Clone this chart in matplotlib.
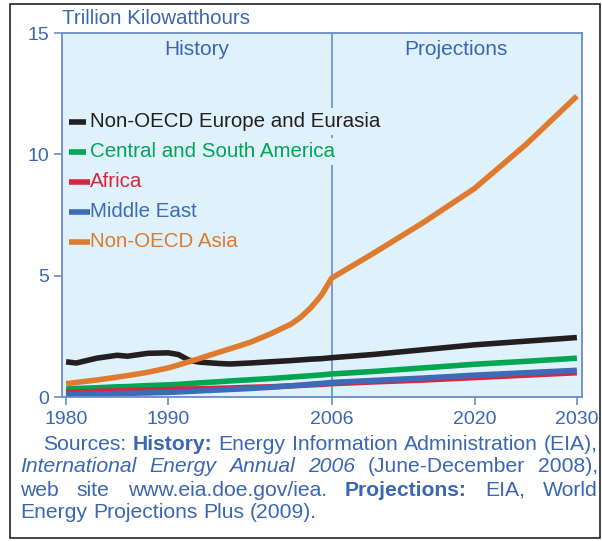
import matplotlib
matplotlib.use("Agg")
import matplotlib.pyplot as plt
from matplotlib.patches import Rectangle

plt.rcParams['font.family'] = ['Liberation Sans', 'DejaVu Sans']

# values (trillion kWh)
years = [1980, 1981, 1983, 1985, 1986, 1988, 1990, 1991, 1992, 1993, 1995, 1996, 1998, 2000, 2002, 2003, 2004, 2005, 2006,
         2010, 2015, 2020, 2025, 2030]
europe = [1.45, 1.40, 1.60, 1.72, 1.68, 1.80, 1.82, 1.75, 1.52, 1.44, 1.38, 1.36, 1.40, 1.45, 1.50, 1.53, 1.56, 1.58, 1.62,
          1.75, 1.95, 2.15, 2.30, 2.45]
csa = [0.33, 0.35, 0.38, 0.42, 0.43, 0.47, 0.50, 0.52, 0.55, 0.58, 0.63, 0.66, 0.71, 0.76, 0.82, 0.85, 0.88, 0.91, 0.95,
       1.05, 1.20, 1.35, 1.47, 1.60]
africa = [0.20, 0.21, 0.23, 0.25, 0.26, 0.29, 0.31, 0.32, 0.33, 0.34, 0.36, 0.37, 0.40, 0.42, 0.46, 0.48, 0.50, 0.52, 0.55,
          0.62, 0.70, 0.80, 0.90, 1.00]
mideast = [0.10, 0.11, 0.12, 0.14, 0.15, 0.17, 0.19, 0.21, 0.23, 0.25, 0.29, 0.31, 0.35, 0.40, 0.46, 0.49, 0.53, 0.56, 0.60,
           0.68, 0.78, 0.90, 1.00, 1.10]
asia = [0.55, 0.60, 0.70, 0.82, 0.88, 1.02, 1.20, 1.32, 1.45, 1.58, 1.85, 1.98, 2.25, 2.60, 3.00, 3.30, 3.70, 4.20, 4.90,
        5.90, 7.20, 8.60, 10.40, 12.40]

series = [("Non-OECD Europe and Eurasia", europe, "#231f20"),
          ("Central and South America", csa, "#00a651"),
          ("Africa", africa, "#d7263d"),
          ("Middle East", mideast, "#3d6bb8"),
          ("Non-OECD Asia", asia, "#e07a2f")]
draw_order = [1, 2, 3, 0, 4]

xticks = [1980, 1990, 2006, 2020, 2030]
yticks = [0, 5, 10, 15]

blue = "#3b66b4"
bg = "#dff2fc"
W, H = 602, 541
fig = plt.figure(figsize=(W / 100, H / 100), dpi=100)
fig.patches.append(Rectangle((10 / W, 3 / H), 590 / W, 534 / H, transform=fig.transFigure,
                             fill=False, edgecolor="#222222", lw=1.2))

ax = fig.add_axes([62 / W, (H - 397) / H, 520 / W, 364 / H])
ax.set_facecolor(bg)
for s in ax.spines.values():
    s.set_color("#6a8cc8")
    s.set_linewidth(1.3)

for i in draw_order:
    name, vals, col = series[i]
    ax.plot(years, vals, color=col, lw=4, solid_capstyle="butt")

ax.axvline(2006, color="#6a8cc8", lw=1.2, zorder=1)

ax.set_xlim(1979.6, 2030.5)
ax.set_ylim(0, 15)
ax.set_xticks(xticks)
ax.set_yticks(yticks)
ax.tick_params(colors="#6a8cc8", labelcolor=blue, labelsize=14, length=6, width=1.2)
ax.tick_params(axis="x", pad=4)

ax.text(1992.8, 14.3, "History", color=blue, fontsize=15, ha="center", va="center")
ax.text(2018.2, 14.3, "Projections", color=blue, fontsize=15, ha="center", va="center")
fig.text(62 / W, 1 - 18 / H, "Trillion Kilowatthours", color=blue, fontsize=14.8, va="center")

# legend drawn as coloured labels with short line handles
for k, (name, vals, col) in enumerate(series):
    yy = 11.35 - k * 1.24
    ax.plot([1980.3, 1982.3], [yy, yy], color=col, lw=4, solid_capstyle="butt", zorder=5)
    txt = ax.text(1982.35, yy, name, color=col, fontsize=14.8, va="center", ha="left", zorder=5)
    if k < 2:
        txt.set_bbox(dict(facecolor=bg, edgecolor="none", pad=3))

# justified source note
lines = [
    [("Sources: ", "normal", "normal"), ("History:", "bold", "normal"), (" Energy Information Administration (EIA),", "normal", "normal")],
    [("International Energy Annual 2006", "normal", "italic"), (" (June-December 2008),", "normal", "normal")],
    [("web site www.eia.doe.gov/iea. ", "normal", "normal"), ("Projections:", "bold", "normal"), (" EIA, World", "normal", "normal")],
    [("Energy Projections Plus (2009).", "normal", "normal")],
]
line_y = [445, 467, 490, 513]
line_x0 = [43, 20, 20, 20]
right = 598
fig.canvas.draw()
r = fig.canvas.get_renderer()


def width(s, weight, style, fs):
    t = fig.text(0, 0, s, fontsize=fs, fontweight=weight, fontstyle=style)
    w = t.get_window_extent(r).width
    t.remove()
    return w


# pick font size so that the first line fits its natural width
nat = sum(width(s, wt, st, 10) for s, wt, st in lines[0])
fs = 10 * (right - line_x0[0]) / nat
space = width("a b", "normal", "normal", fs) - width("ab", "normal", "normal", fs)

for li, segs in enumerate(lines):
    words = []
    for s, wt, st in segs:
        for p in s.split(" "):
            if p:
                words.append((p, wt, st))
    ws = [width(w, wt, st, fs) for w, wt, st in words]
    if li < 3:
        gap = (right - line_x0[li] - sum(ws)) / (len(words) - 1)
    else:
        gap = space
    x = line_x0[li]
    for (w, wt, st), wd in zip(words, ws):
        fig.text(x / W, 1 - line_y[li] / H, w, fontsize=fs, fontweight=wt, fontstyle=st,
                 color=blue, va="center", ha="left")
        x += wd + gap

fig.savefig("out.png", dpi=100)
